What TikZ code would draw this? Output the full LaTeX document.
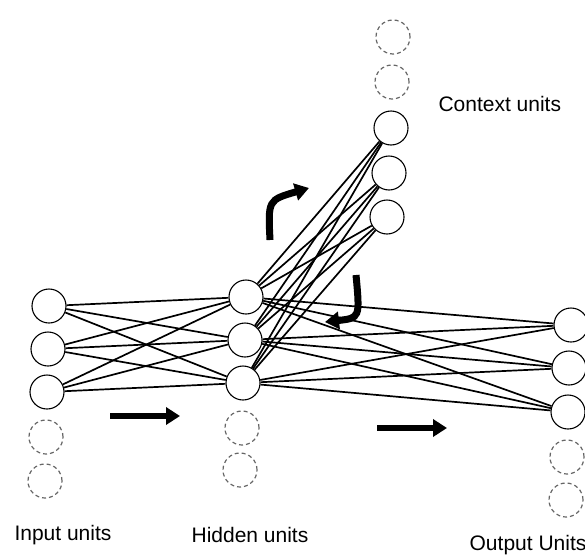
\documentclass[tikz,border=0pt]{standalone}
\usepackage{fontspec}
\setmainfont{Liberation Sans}
\usetikzlibrary{arrows.meta}
\begin{document}
\begin{tikzpicture}[x=1pt,y=-1pt,
    unit/.style={draw, circle, minimum size=34pt, inner sep=0pt, line width=1.1pt},
    ghost/.style={draw=black!60, circle, minimum size=34pt, inner sep=0pt, dash pattern=on 4pt off 3pt, line width=1.2pt},
    link/.style={line width=1.7pt},
    flow/.style={line width=6pt, -{Triangle[length=14pt,width=17pt]}},
    font=\fontsize{21}{25}\selectfont]
    \useasboundingbox (0,0) rectangle (585,554);
    % input units
    \node [unit] (i1) at (49,306) {};
    \node [unit] (i2) at (48,349) {};
    \node [unit] (i3) at (47,392) {};
    \node [ghost] (i4) at (46,437) {};
    \node [ghost] (i5) at (45,481) {};
    % hidden units
    \node [unit] (h1) at (246,297) {};
    \node [unit] (h2) at (245,340) {};
    \node [unit] (h3) at (243,383) {};
    \node [ghost] (h4) at (242,428) {};
    \node [ghost] (h5) at (240,470) {};
    % context units
    \node [ghost] (c5) at (393,37) {};
    \node [ghost] (c4) at (392,82) {};
    \node [unit] (c1) at (391,128) {};
    \node [unit] (c2) at (389,173) {};
    \node [unit] (c3) at (387,217) {};
    % output units
    \node [unit] (o1) at (571,325) {};
    \node [unit] (o2) at (569,368) {};
    \node [unit] (o3) at (568,412) {};
    \node [ghost] (o4) at (567,457) {};
    \node [ghost] (o5) at (566,500) {};
    % weights
    \foreach \a in {1,2,3} {
        \foreach \b in {1,2,3} {
            \draw [link] (i\a) -- (h\b);
            \draw [link] (h\a) -- (c\b);
            \draw [link] (h\a) -- (o\b);
        }
    }
    % labels
    \node (inlabel) at (63,535) {Input units};
    \node (hidlabel) at (250,535) {Hidden units};
    \node (outlabel) at (528,545) {Output Units};
    \node [anchor=west] (ctxlabel) at (435,104) {Context units};
    % direction arrows
    \coordinate (f1s) at (110,416);
    \coordinate (f1e) at (180,416);
    \coordinate (f2s) at (377,428);
    \coordinate (f2e) at (447,428);
    \draw [flow] (f1s) -- (f1e);
    \draw [flow] (f2s) -- (f2e);
    \coordinate (r1s) at (270,240);
    \coordinate (r1e) at (309,188);
    \coordinate (r2s) at (356,275);
    \coordinate (r2e) at (325,322);
    \draw [flow, line width=7pt] (r1s) .. controls (268,200) .. (r1e);
    \draw [flow, line width=7pt] (r2s) .. controls (360,318) .. (r2e);
\end{tikzpicture}
\end{document}
